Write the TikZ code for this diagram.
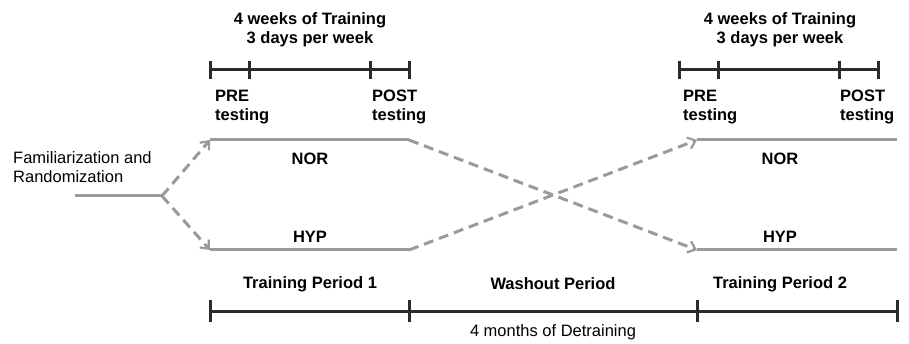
\documentclass[tikz,border=0pt]{standalone}
\usepackage{fontspec}
\setmainfont{Liberation Sans}
\usetikzlibrary{arrows.meta}
\definecolor{grp}{HTML}{9A9A9A}
\definecolor{tl}{HTML}{2A2A2A}
\begin{document}
\begin{tikzpicture}[x=1pt,y=-1pt,
  txt/.style={font=\fontsize{16.5}{19}\selectfont,inner sep=0pt},
  bold/.style={txt,font=\fontsize{16.5}{19}\selectfont\bfseries},
  grpline/.style={draw=grp,line width=3pt},
  dashline/.style={draw=grp,line width=3pt,dash pattern=on 10pt off 6pt,-{Straight Barb[length=7pt,width=12pt,line width=2.2pt]}},
  tline/.style={draw=tl,line width=3pt},
  tick/.style={draw=tl,line width=3pt}]
\useasboundingbox (0,0) rectangle (909,344);
% titles
\node[bold,align=center] (t1) at (310,30) {4 weeks of Training\\3 days per week};
\node[bold,align=center] (t2) at (780,30) {4 weeks of Training\\3 days per week};
% top timelines
\coordinate (a0) at (210,70); \coordinate (a1) at (249,70); \coordinate (a2) at (370,70); \coordinate (a3) at (409,70);
\coordinate (b0) at (679,70); \coordinate (b1) at (718,70); \coordinate (b2) at (839,70); \coordinate (b3) at (878,70);
\draw[tline] (a0) -- (a3);
\draw[tline] (b0) -- (b3);
\foreach \c in {a0,a1,a2,a3,b0,b1,b2,b3}{\draw[tick] ([yshift=-9pt]\c) -- ([yshift=9pt]\c);}
% PRE / POST labels
\node[bold,align=left,anchor=north west] (pre1) at (215,90) {PRE\\testing};
\node[bold,align=left,anchor=north west] (post1) at (372,90) {POST\\testing};
\node[bold,align=left,anchor=north west] (pre2) at (683,90) {PRE\\testing};
\node[bold,align=left,anchor=north west] (post2) at (840,90) {POST\\testing};
% left
\node[txt,align=left,anchor=west] (fam) at (13,167) {Familiarization and\\Randomization};
\coordinate (s0) at (75,196); \coordinate (s1) at (162,196);
\draw[grpline] (s0) -- (s1);
% group lines
\coordinate (n1s) at (210,140); \coordinate (n1e) at (409,140);
\coordinate (h1s) at (210,250); \coordinate (h1e) at (409,250);
\coordinate (n2s) at (697,140); \coordinate (n2e) at (897,140);
\coordinate (h2s) at (697,250); \coordinate (h2e) at (897,250);
\draw[grpline] (n1s) -- (n1e);
\draw[grpline] (h1s) -- (h1e);
\draw[grpline] (n2s) -- (n2e);
\draw[grpline] (h2s) -- (h2e);
\draw[dashline] (s1) -- (n1s);
\draw[dashline] (s1) -- (h1s);
\draw[dashline] (n1e) -- (h2s);
\draw[dashline] (h1e) -- (n2s);
\node[bold] (nor1) at (310,159) {NOR};
\node[bold] (hyp1) at (310,237) {HYP};
\node[bold] (nor2) at (780,159) {NOR};
\node[bold] (hyp2) at (780,237) {HYP};
% bottom
\node[bold] (tp1) at (310,284) {Training Period 1};
\node[bold] (wp) at (553,284) {Washout Period};
\node[bold] (tp2) at (780,284) {Training Period 2};
\coordinate (c0) at (210,311); \coordinate (c1) at (409,311); \coordinate (c2) at (697,311); \coordinate (c3) at (897,311);
\draw[tline] (c0) -- (c3);
\foreach \c in {c0,c1,c2,c3}{\draw[tick] ([yshift=-11pt]\c) -- ([yshift=11pt]\c);}
\node[txt] (det) at (553,332) {4 months of Detraining};
\end{tikzpicture}
\end{document}
